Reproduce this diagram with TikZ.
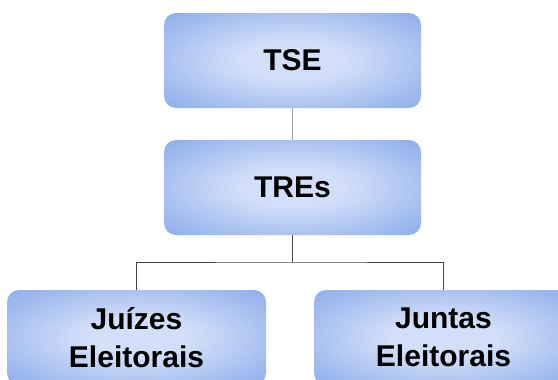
\documentclass[tikz,border=0pt]{standalone}
\usepackage{fontspec}
\setmainfont{Liberation Sans}
\usepackage{tikz}

\definecolor{boxdark}{RGB}{102,144,229}
\definecolor{boxlight}{RGB}{210,223,248}
\definecolor{toplinegray}{RGB}{170,170,170}
\definecolor{treelinegray}{RGB}{70,70,70}
\pgfdeclareradialshading{boxshade}{\pgfpoint{0bp}{0bp}}{color(0bp)=(boxlight); color(10bp)=(boxlight); color(50bp)=(boxdark)}

\begin{document}
\begin{tikzpicture}[x=1pt,y=1pt]
\tikzset{orgbox/.style={rectangle, rounded corners=12pt, shading=boxshade,
  minimum width=257pt, minimum height=95pt, inner sep=0pt, align=center,
  font=\fontsize{30}{38}\selectfont\bfseries},
  toplink/.style={draw=toplinegray, line width=1.6pt},
  treelink/.style={draw=treelinegray, line width=1pt}}
\path [use as bounding box, clip] (0,0) rectangle (558,-380);
\node [orgbox] (tse) at (292.5,-60.5) {TSE};
\node [orgbox] (tres) at (292.5,-187.5) {TREs};
\node [orgbox, minimum width=259pt] (juizes) at (136.5,-337.5) {Juízes\\Eleitorais};
\node [orgbox, minimum width=259pt] (juntas) at (443.5,-337.5) {Juntas\\Eleitorais};
\coordinate (fork) at (292.5,-262);
\draw [toplink] (tse) -- (tres);
\draw [treelink] (tres.south) -- (fork);
\draw [treelink] (juizes.north) |- (fork) -| (juntas.north);
\end{tikzpicture}
\end{document}
